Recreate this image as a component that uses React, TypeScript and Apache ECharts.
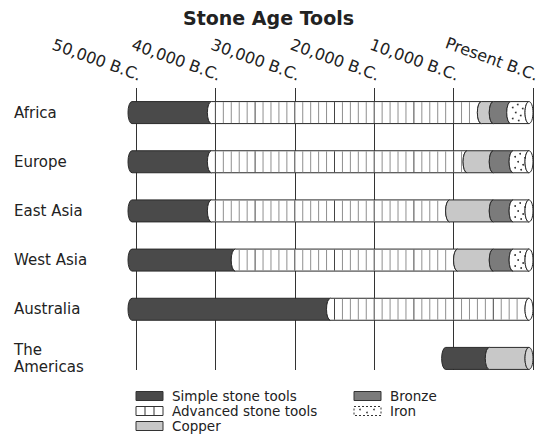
import React, { useEffect, useRef } from 'react';
import * as echarts from 'echarts';

// ---- Data -------------------------------------------------------------
const regions = ['Africa', 'Europe', 'East Asia', 'West Asia', 'Australia', 'The Americas'];
const stageNames = ['Simple stone tools', 'Advanced stone tools', 'Copper', 'Bronze', 'Iron'];
// Year each stage begins (negative = B.C.), null = stage not shown
const simpleStart = [-50000, -50000, -50000, -50000, -50000, -10500];
const advancedStart = [-40000, -40000, -40000, -37000, -25000, null];
const copperStart = [-6000, -7800, -10000, -9000, null, -5000];
const bronzeStart = [-4500, -4500, -4500, -4500, null, null];
const ironStart = [-2300, -2000, -2000, -2000, null, null];
const presentYear = 0;
const tickLabels = ['50,000 B.C.', '40,000 B.C.', '30,000 B.C.', '20,000 B.C.', '10,000 B.C.', 'Present B.C.'];

// ---- Styles -----------------------------------------------------------
const stageColors = ['#4a4a4a', '#ffffff', '#c8c8c8', '#7b7b7b', '#ffffff'];
const FONT = 'DejaVu Sans';
const INK = '#222';

const stageStarts = [simpleStart, advancedStart, copperStart, bronzeStart, ironStart];

function buildSegments() {
  const out: number[][] = [];
  regions.forEach((_, ri) => {
    const stages = stageStarts
      .map((arr, si) => ({ si, start: arr[ri] }))
      .filter((s) => s.start !== null && s.start !== undefined)
      .sort((a, b) => (a.start as number) - (b.start as number));
    stages.forEach((s, k) => {
      const end = k < stages.length - 1 ? (stages[k + 1].start as number) : presentYear;
      out.push([ri, s.start as number, end, s.si, k === stages.length - 1 ? 1 : 0]);
    });
  });
  return out;
}

const BAR_H = 22;
const R = 4;

function renderItem(params: any, api: any) {
  const cat = api.value(0);
  const start = api.value(1);
  const end = api.value(2);
  const type = api.value(3);
  const isLast = api.value(4);
  const p0 = api.coord([start, cat]);
  const p1 = api.coord([end, cat]);
  const cy = p0[1];
  const top = cy - BAR_H / 2;
  const bottom = cy + BAR_H / 2;
  const cx0 = p0[0] - R;
  const cx1 = p1[0] - R;
  const ry = BAR_H / 2;
  const fill = stageColors[type];
  const children: any[] = [];
  const d =
    `M ${cx0} ${top} L ${cx1} ${top} A ${R} ${ry} 0 0 0 ${cx1} ${bottom} ` +
    `L ${cx0} ${bottom} A ${R} ${ry} 0 0 1 ${cx0} ${top} Z`;
  children.push({
    type: 'path',
    shape: { pathData: d },
    style: { fill, stroke: '#2a2a2a', lineWidth: 1 },
  });
  if (type === 1) {
    const first = Math.ceil(start / 1000) * 1000;
    for (let y = first; y <= end; y += 1000) {
      const x = api.coord([y, cat])[0];
      if (x > cx0 + 1 && x < cx1 - R) {
        children.push({
          type: 'line',
          shape: { x1: x, y1: top + 0.5, x2: x, y2: bottom - 0.5 },
          style: { stroke: y % 5000 === 0 ? '#444' : '#8f8f8f', lineWidth: 1 },
        });
      }
    }
  }
  if (isLast) {
    children.push({
      type: 'ellipse',
      shape: { cx: cx1, cy, rx: R, ry },
      style: { fill: type === 2 ? '#d4d4d4' : '#ffffff', stroke: '#2a2a2a', lineWidth: 1 },
    });
  }
  if (type === 4) {
    const dots = [[2, -5], [7, -8], [5, 0], [10, 3], [2, 6], [8, 8], [12, -4]];
    dots.forEach(([dx, dy]) => {
      const x = cx0 + dx;
      if (x < cx1 + R - 1.5) {
        children.push({ type: 'circle', shape: { cx: x, cy: cy + dy, r: 0.9 }, style: { fill: '#333' } });
      }
    });
  }
  return { type: 'group', children };
}

function legendGraphics() {
  const items: any[] = [];
  const rows = [396, 411, 426];
  const pos = [
    { x: 136, y: rows[0] },
    { x: 136, y: rows[1] },
    { x: 136, y: rows[2] },
    { x: 354, y: rows[0] },
    { x: 354, y: rows[1] },
  ];
  const w = 27;
  const h = 9;
  pos.forEach((p, i) => {
    const t = p.y - h / 2;
    items.push({
      type: 'rect',
      shape: { x: p.x, y: t, width: w, height: h },
      style: {
        fill: stageColors[i],
        stroke: '#333',
        lineWidth: 1,
        lineDash: i === 4 ? [2, 2] : null,
      },
    });
    if (i === 1) {
      [9, 18].forEach((dx) =>
        items.push({ type: 'line', shape: { x1: p.x + dx, y1: t, x2: p.x + dx, y2: t + h }, style: { stroke: '#333', lineWidth: 1 } })
      );
    }
    if (i === 4) {
      [[6, 3], [13, 6], [20, 3]].forEach(([dx, dy]) =>
        items.push({ type: 'circle', shape: { cx: p.x + dx, cy: t + dy, r: 0.8 }, style: { fill: '#333' } })
      );
    }
    items.push({
      type: 'text',
      x: p.x + 36,
      y: p.y,
      style: { text: stageNames[i], fill: INK, font: `13.5px "${FONT}"`, textVerticalAlign: 'middle' },
    });
  });
  return items;
}

export default function App() {
  const ref = useRef<HTMLDivElement>(null);
  useEffect(() => {
    if (!ref.current) return;
    const chart = echarts.init(ref.current, null, { renderer: 'svg' });
    chart.setOption({
      animation: false,
      backgroundColor: '#ffffff',
      textStyle: { fontFamily: FONT },
      title: {
        text: 'Stone Age Tools',
        left: 178,
        top: 3,
        textStyle: { fontFamily: FONT, fontWeight: 'bold', fontSize: 19, color: INK },
      },
      grid: [
        { left: 136, right: 9, top: 88, bottom: 51, outerBoundsMode: 'none' },
        { left: 136, right: 9, top: 88, bottom: 64, outerBoundsMode: 'none' },
      ],
      xAxis: [
        { gridIndex: 0, type: 'value', min: -50000, max: 0, interval: 10000, show: false },
        {
          gridIndex: 1,
          type: 'value',
          position: 'top',
          min: -50000,
          max: 0,
          interval: 10000,
          axisLine: { show: false },
          axisTick: { show: false },
          splitLine: { show: true, lineStyle: { color: '#333', width: 1 } },
          axisLabel: {
            rotate: -20,
            margin: 14,
            padding: [0, -5, 0, 0],
            fontSize: 16,
            color: INK,
            fontFamily: FONT,
            formatter: (v: number) => tickLabels[Math.round((v + 50000) / 10000)],
          },
        },
      ],
      yAxis: [
        {
          gridIndex: 0,
          type: 'category',
          data: regions,
          inverse: true,
          axisLine: { show: false },
          axisTick: { show: false },
          splitLine: { show: false },
          axisLabel: {
            align: 'left',
            margin: 122,
            fontSize: 15,
            lineHeight: 17,
            color: INK,
            fontFamily: FONT,
            formatter: (v: string) => (v === 'The Americas' ? 'The\nAmericas' : v),
          },
        },
        { gridIndex: 1, type: 'value', show: false },
      ],
      series: [
        {
          type: 'custom',
          xAxisIndex: 0,
          yAxisIndex: 0,
          renderItem,
          encode: { x: [1, 2], y: 0 },
          data: buildSegments(),
        },
      ],
      graphic: legendGraphics(),
    });
    return () => chart.dispose();
  }, []);
  return (
    <div
      ref={ref}
      style={{ position: 'absolute', left: 0, top: 0, width: 542, height: 434 }}
    />
  );
}
